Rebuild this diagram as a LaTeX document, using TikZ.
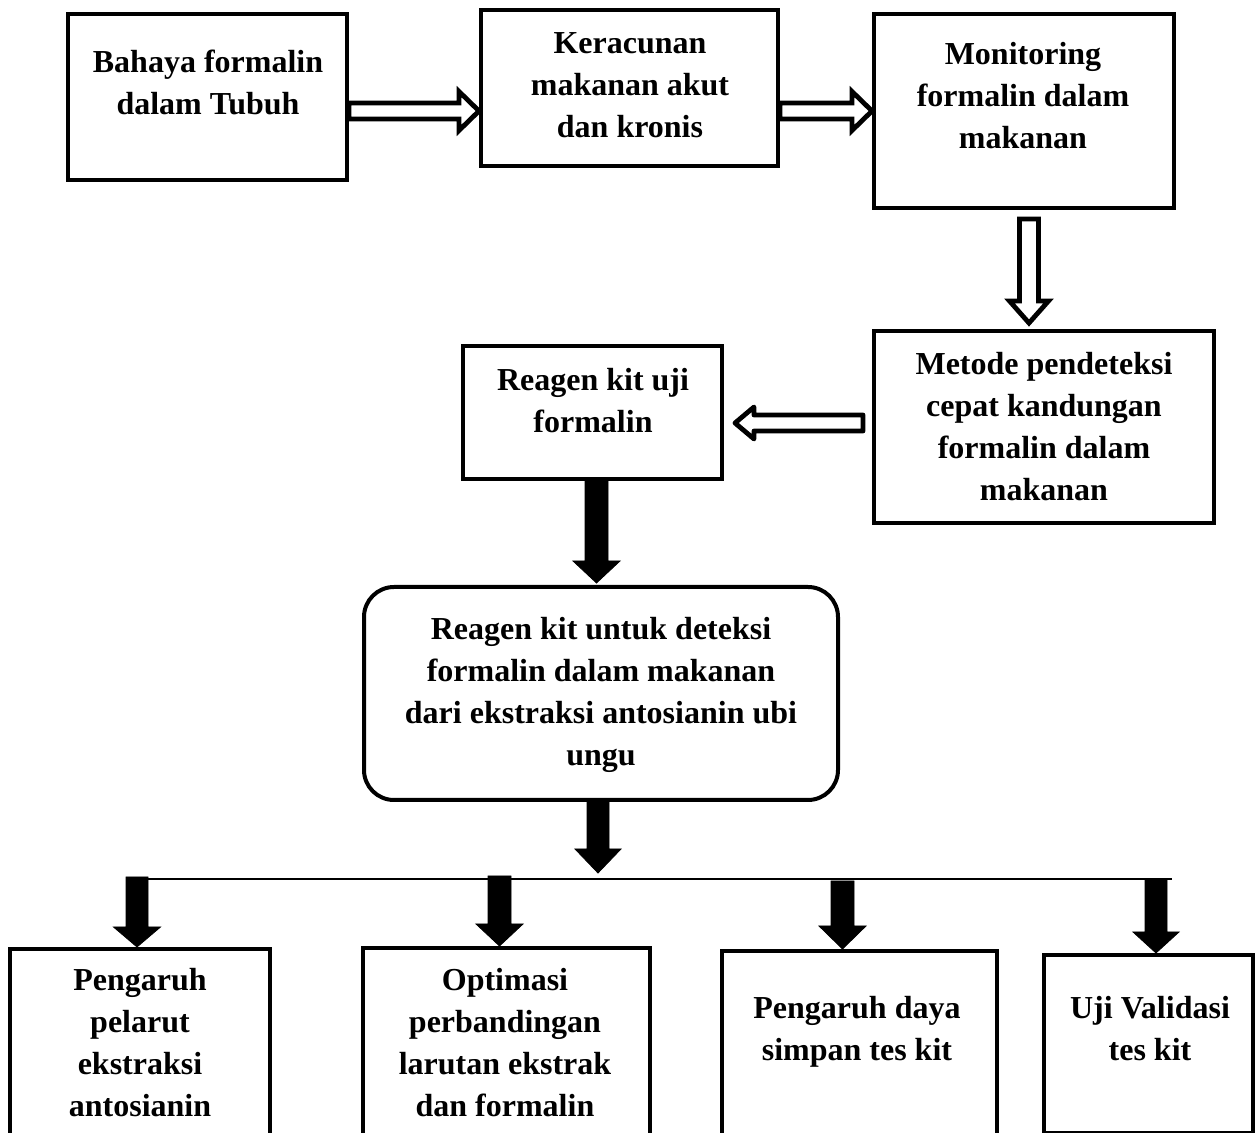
\documentclass[tikz,border=0pt]{standalone}
\usepackage{fontspec}
\setmainfont{Liberation Serif}
\usetikzlibrary{calc}

% block arrow: [style]{tail}{tip}{shaft half width}{head half width}{head length}
\newcommand{\blockarrow}[6][]{%
  \coordinate (ba-base) at ($(#3)!#6!(#2)$);
  \draw[#1] ($(#2)!#4!90:(#3)$) -- ($(ba-base)!#4!90:(#3)$)
    -- ($(ba-base)!#5!90:(#3)$) -- (#3)
    -- ($(ba-base)!#5!-90:(#3)$) -- ($(ba-base)!#4!-90:(#3)$)
    -- ($(#2)!#4!-90:(#3)$) -- cycle;
}

\begin{document}
\begin{tikzpicture}[x=0.5pt, y=-0.5pt,
            box/.style={draw, line width=2pt, inner sep=0pt},
            txt/.style={align=center, inner sep=0pt, font=\fontsize{16pt}{21pt}\selectfont\bfseries},
            hollow/.style={draw, fill=white, line width=2.4pt, line join=miter},
            solid/.style={fill=black}
        ]
            \useasboundingbox (0,0) rectangle (1255,1133);
            \clip (0,0) rectangle (1255,1133);

            % boxes
            \node[box, minimum width=139.5pt, minimum height=83pt] (bahaya) at (207.5,97) {};
            \node[box, minimum width=148.5pt, minimum height=78pt] (keracunan) at (629.5,88) {};
            \node[box, minimum width=150pt, minimum height=97pt] (monitoring) at (1024,111) {};
            \node[box, minimum width=170pt, minimum height=96pt] (metode) at (1044,427) {};
            \node[box, minimum width=129.5pt, minimum height=66.5pt] (reagenkit) at (592.5,412.5) {};
            \node[box, rounded corners=15pt, minimum width=237pt, minimum height=106.5pt] (deteksi) at (601,693.5) {};
            \node[box, anchor=north, minimum width=130pt, minimum height=127pt] (pelarut) at (140,947) {};
            \node[box, anchor=north, minimum width=143.5pt, minimum height=127pt] (optimasi) at (506.5,946) {};
            \node[box, anchor=north, minimum width=137.5pt, minimum height=127pt] (daya) at (859.5,949) {};
            \node[box, anchor=north, minimum width=104.5pt, minimum height=89pt] (validasi) at (1148.5,953) {};

            % texts
            \node[txt] (bahaya-t) at (208,82) {Bahaya formalin\\dalam Tubuh};
            \node[txt] (keracunan-t) at (630,85.5) {Keracunan\\makanan akut\\dan kronis};
            \node[txt] (monitoring-t) at (1023,95.5) {Monitoring\\formalin dalam\\makanan};
            \node[txt] (metode-t) at (1044,427) {Metode pendeteksi\\cepat kandungan\\formalin dalam\\makanan};
            \node[txt] (reagenkit-t) at (593,400.5) {Reagen kit uji\\formalin};
            \node[txt] (deteksi-t) at (601,694.5) {Reagen kit untuk deteksi\\formalin dalam makanan\\dari ekstraksi antosianin ubi\\ungu};
            \node[txt] (pelarut-t) at (140,1043) {Pengaruh\\pelarut\\ekstraksi\\antosianin};
            \node[txt] (optimasi-t) at (505,1043) {Optimasi\\perbandingan\\larutan ekstrak\\dan formalin};
            \node[txt] (daya-t) at (857,1032) {Pengaruh daya\\simpan tes kit};
            \node[txt] (validasi-t) at (1150,1029) {Uji Validasi\\tes kit};

            % hollow arrows
            \coordinate (h1a) at ($(bahaya.east)+(0,14)$);
            \coordinate (h1b) at (h1a -| keracunan.west);
            \blockarrow[hollow]{h1a}{h1b}{4pt}{9.75pt}{10pt}
            \coordinate (h2a) at ($(keracunan.east)+(0,23)$);
            \coordinate (h2b) at (h2a -| monitoring.west);
            \blockarrow[hollow]{h2a}{h2b}{4pt}{9.75pt}{10pt}
            \coordinate (h3a) at ($(monitoring.south)+(5,9)$);
            \coordinate (h3b) at ($(h3a |- metode.north)+(0,-6)$);
            \blockarrow[hollow]{h3a}{h3b}{4.75pt}{9.75pt}{11pt}
            \coordinate (h4a) at ($(metode.west)+(-9,-4)$);
            \coordinate (h4b) at ($(h4a -| reagenkit.east)+(11,0)$);
            \blockarrow[hollow, line join=round]{h4a}{h4b}{4pt}{8pt}{9.5pt}

            % solid arrows
            \coordinate (s1a) at ($(reagenkit.south)+(4,0)$);
            \coordinate (s1b) at ($(s1a |- deteksi.north)+(0,-2)$);
            \blockarrow[solid]{s1a}{s1b}{5.75pt}{11.75pt}{11pt}

            \coordinate (bar-l) at (148,879);
            \coordinate (bar-r) at (1172,879);
            \draw[line width=1pt] (bar-l) -- (bar-r);

            \coordinate (s2a) at ($(deteksi.south)+(-3,0)$);
            \coordinate (s2b) at ($(s2a |- bar-l)+(0,-6)$);
            \blockarrow[solid]{s2a}{s2b}{5.5pt}{11.5pt}{12pt}

            \coordinate (d1) at (137,877);
            \coordinate (d2) at (499.5,876);
            \coordinate (d3) at (842.5,881);
            \coordinate (d4) at (1156,880);
            \blockarrow[solid]{d1}{d1 |- pelarut.north}{5.5pt}{11.75pt}{10pt}
            \blockarrow[solid]{d2}{d2 |- optimasi.north}{5.75pt}{11.75pt}{11pt}
            \blockarrow[solid]{d3}{d3 |- daya.north}{5.75pt}{11.75pt}{11.5pt}
            \blockarrow[solid]{d4}{d4 |- validasi.north}{5.5pt}{11.5pt}{10.5pt}
        \end{tikzpicture}
\end{document}
